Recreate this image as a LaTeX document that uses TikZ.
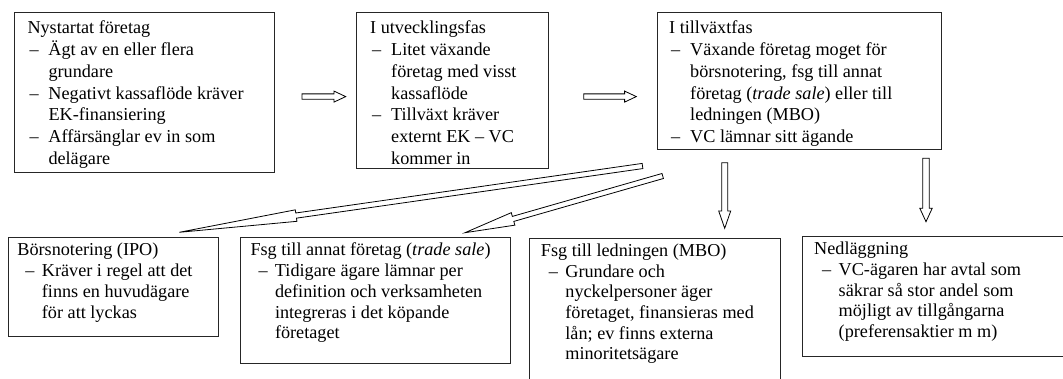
\documentclass[tikz,border=0pt]{standalone}
\usepackage{fontspec}
\setmainfont{Liberation Serif}
\usetikzlibrary{calc}

\newcommand\bxtext[2]{\vtop{\lineskiplimit=-100pt\lineskip=0pt\baselineskip=#1 #2}}
\newcommand\bxtitle[1]{\hbox{#1}}
\newcommand\bxia[1]{\hbox{\makebox[21pt][l]{\hspace*{2pt}–}#1}}
\newcommand\bxca[1]{\hbox{\hspace*{21pt}#1}}
\newcommand\bxib[1]{\hbox{\makebox[24.5pt][l]{\hspace*{8pt}–}#1}}
\newcommand\bxcb[1]{\hbox{\hspace*{24.5pt}#1}}

% block arrow: tail, tip, shaft half-width, head half-width, head length, name of head-base coordinate
\newcommand\blockarrow[6]{%
  \coordinate (#6) at ($(#2)!#5!(#1)$);
  \draw[barrow] ($(#1)!#3!90:(#2)$) -- ($(#6)!#3!90:(#2)$) -- ($(#6)!#4!90:(#2)$)
    -- (#2) -- ($(#6)!#4!-90:(#2)$) -- ($(#6)!#3!-90:(#2)$) -- ($(#1)!#3!-90:(#2)$) -- cycle;
}

\tikzset{
  frame/.style={draw=black!85, line width=1.1pt, inner sep=0pt, anchor=north west},
  txt/.style={inner sep=0pt, anchor=base west, font=\fontsize{18.2}{21.7}\selectfont},
  barrow/.style={draw=black, line width=0.8pt, fill=white, line join=miter},
}

\begin{document}
\begin{tikzpicture}[x=1pt, y=-1pt]
\useasboundingbox (0,0) rectangle (1063,379);
\fill[white] (0,0) rectangle (1063,379);
\clip (0,0) rectangle (1063,379);

% frames
\node[frame, minimum width=260pt, minimum height=160pt] (b1) at (14,12) {};
\node[frame, minimum width=192pt, minimum height=156pt] (b2) at (356,12) {};
\node[frame, minimum width=283.5pt, minimum height=137pt] (b3) at (657,12) {};
\node[frame, minimum width=210pt, minimum height=99pt] (b4) at (7.6,237) {};
\node[frame, minimum width=270pt, minimum height=126pt] (b5) at (240,237) {};
\node[frame, minimum width=251.5pt, minimum height=160pt] (b6) at (528.5,238) {};
\node[frame, minimum width=300pt, minimum height=120pt] (b7) at (802,236) {};

% texts
\node[txt] (t1) at (27.3,34) {\bxtext{21.7pt}{%
  \bxtitle{Nystartat företag}
  \bxia{Ägt av en eller flera}
  \bxca{grundare}
  \bxia{Negativt kassaflöde kräver}
  \bxca{EK-finansiering}
  \bxia{Affärsänglar ev in som}
  \bxca{delägare}}};
\node[txt] (t2) at (370,34) {\bxtext{21.7pt}{%
  \bxtitle{I utvecklingsfas}
  \bxia{Litet växande}
  \bxca{företag med visst}
  \bxca{kassaflöde}
  \bxia{Tillväxt kräver}
  \bxca{externt EK – VC}
  \bxca{kommer in}}};
\node[txt] (t3) at (669,34) {\bxtext{21.7pt}{%
  \bxtitle{I tillväxtfas}
  \bxia{Växande företag moget för}
  \bxca{börsnotering, fsg till annat}
  \bxca{företag (\textit{trade sale}) eller till}
  \bxca{ledningen (MBO)}
  \bxia{VC lämnar sitt ägande}}};
\node[txt] (t4) at (17.2,256) {\bxtext{20.7pt}{%
  \bxtitle{Börsnotering (IPO)}
  \bxib{Kräver i regel att det}
  \bxcb{finns en huvudägare}
  \bxcb{för att lyckas}}};
\node[txt] (t5) at (250.3,256) {\bxtext{20.7pt}{%
  \bxtitle{Fsg till annat företag (\textit{trade sale})}
  \bxib{Tidigare ägare lämnar per}
  \bxcb{definition och verksamheten}
  \bxcb{integreras i det köpande}
  \bxcb{företaget}}};
\node[txt] (t6) at (540.7,256.7) {\bxtext{20.6pt}{%
  \bxtitle{Fsg till ledningen (MBO)}
  \bxib{Grundare och}
  \bxcb{nyckelpersoner äger}
  \bxcb{företaget, finansieras med}
  \bxcb{lån; ev finns externa}
  \bxcb{minoritetsägare}}};
\node[txt] (t7) at (814,255) {\bxtext{20.6pt}{%
  \bxtitle{Nedläggning}
  \bxib{VC-ägaren har avtal som}
  \bxcb{säkrar så stor andel som}
  \bxcb{möjligt av tillgångarna}
  \bxcb{(preferensaktier m m)}}};

% arrow end points
\coordinate (a1t) at (302,96.6);   \coordinate (a1p) at (345.7,96.6);
\coordinate (a2t) at (583.7,96.6); \coordinate (a2p) at (636.3,96.6);
\coordinate (a3t) at (642.5,166);  \coordinate (a3p) at (179.3,232.3);
\coordinate (a4t) at (662.7,176);  \coordinate (a4p) at (465,232.7);
\coordinate (a5t) at (724.7,162.7);\coordinate (a5p) at (724.7,228.3);
\coordinate (a6t) at (926,158.3);  \coordinate (a6p) at (926,221.7);

\blockarrow{a1t}{a1p}{2.7pt}{5.5pt}{11.7pt}{a1h}
\blockarrow{a2t}{a2p}{2.7pt}{5.5pt}{11.7pt}{a2h}
\blockarrow{a3t}{a3p}{2.6pt}{5.8pt}{118pt}{a3h}
\blockarrow{a4t}{a4p}{2.6pt}{6.5pt}{50pt}{a4h}
\blockarrow{a5t}{a5p}{3pt}{6pt}{17.3pt}{a5h}
\blockarrow{a6t}{a6p}{3.2pt}{6.2pt}{13.4pt}{a6h}
\end{tikzpicture}
\end{document}
